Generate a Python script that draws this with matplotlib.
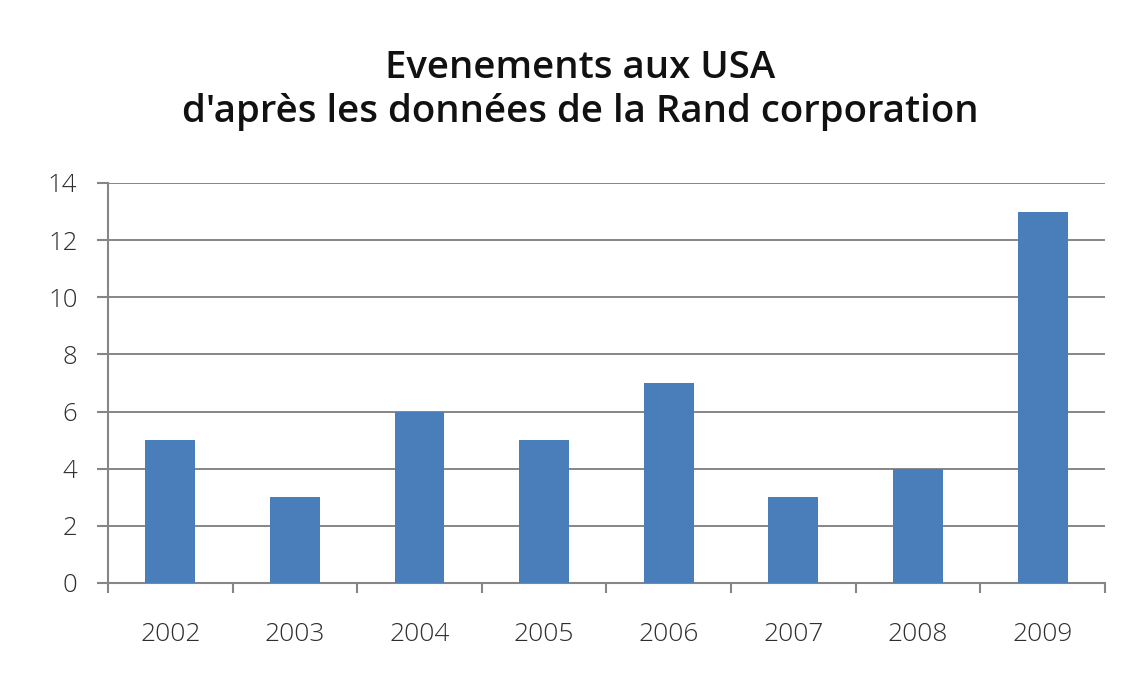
import matplotlib
matplotlib.use("Agg")
import matplotlib.pyplot as plt

years = ["2002", "2003", "2004", "2005", "2006", "2007", "2008", "2009"]
events = [5, 3, 6, 5, 7, 3, 4, 13]
yticks = [0, 2, 4, 6, 8, 10, 12, 14]
title_lines = ["Evenements aux USA", "d'après les données de la Rand corporation"]

plt.rcParams['font.family'] = ['Open Sans', 'DejaVu Sans']
fig = plt.figure(figsize=(11.45, 6.91), dpi=100)
ax = fig.add_axes([0.0943, 0.1563, 0.8707, 0.5789])

x = list(range(len(years)))
ax.bar(x, events, width=0.4, color="#4a7ebb", zorder=3)
ax.set_xlim(-0.5, len(years) - 0.5)
ax.set_ylim(0, 14)
ax.set_yticks(yticks)
ax.set_yticklabels([str(v) for v in yticks], fontsize=18.5, color="#2e2e2e", fontweight='light')
ax.set_xticks(x)
ax.set_xticklabels(years, fontsize=19, color="#2e2e2e", fontweight='light')
ax.tick_params(axis='x', length=0, pad=28)
ax.set_xticks([i + 0.5 for i in range(-1, len(years))], minor=True)
ax.tick_params(axis='x', which='minor', length=7, width=1.5, color="#868686", direction='out')
ax.tick_params(axis='y', length=8, width=1.5, color="#868686", pad=14)
ax.grid(axis='y', color="#868686", linewidth=1.4, zorder=0)
for s in ['top', 'right']:
    ax.spines[s].set_visible(False)
for s in ['left', 'bottom']:
    ax.spines[s].set_color("#868686")
    ax.spines[s].set_linewidth(1.5)

fig.text(0.5066, 1 - 78 / 691, title_lines[0], ha='center', va='baseline',
         fontsize=27.6, fontweight='semibold', color="#111111")
fig.text(0.5066, 1 - 122 / 691, title_lines[1], ha='center', va='baseline',
         fontsize=27.6, fontweight='semibold', color="#111111")

fig.savefig("out.png", dpi=100, facecolor="white")
